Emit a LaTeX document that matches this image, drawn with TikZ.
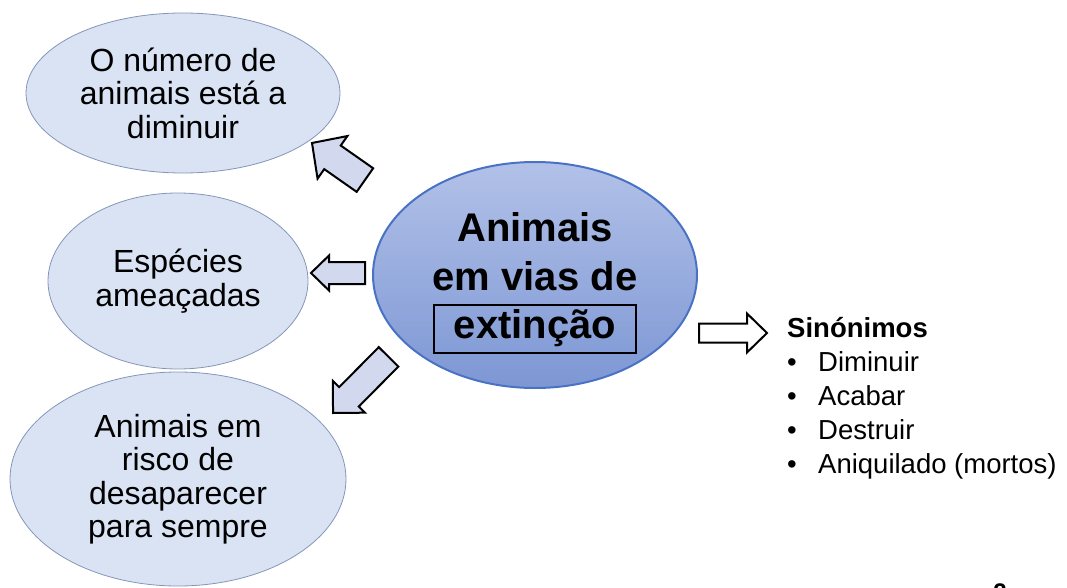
\documentclass[tikz,border=0pt]{standalone}
\usepackage{fontspec}
\setmainfont{Liberation Sans}
\usetikzlibrary{shapes.geometric}
\definecolor{lightfill}{HTML}{DAE3F3}
\definecolor{lightedge}{HTML}{8496B8}
\definecolor{centtop}{HTML}{B2C1E8}
\definecolor{centbot}{HTML}{7D97D4}
\definecolor{centedge}{HTML}{4A72C4}
\definecolor{arrfill}{HTML}{D2D9EF}
\tikzset{
 bubble/.style={ellipse, draw=lightedge, line width=0.8pt, fill=lightfill, inner sep=0pt, align=center, font=\fontsize{32}{33.5}\selectfont},
 hub/.style={ellipse, draw=centedge, line width=2pt, top color=centtop, bottom color=centbot, inner sep=0pt},
 hubtext/.style={font=\fontsize{40}{48}\selectfont\bfseries, inner sep=0pt, anchor=base},
 blk/.style={draw=black, line width=2pt, fill=arrfill, line join=miter},
 blkwhite/.style={draw=black, line width=2pt, fill=white, line join=miter},
 synhead/.style={font=\fontsize{27.5}{34}\selectfont\bfseries, anchor=base west, inner sep=0pt},
 synitem/.style={font=\fontsize{27.5}{34}\selectfont, anchor=base west, inner sep=0pt},
 bulletmark/.style={font=\fontsize{27.5}{34}\selectfont, anchor=base, inner sep=0pt},
}
\newcommand{\blockarrow}[7]{%
 \begin{scope}[shift={#2}, rotate=#3]
 \draw[#1] (0,0) -- (-#5,#7) -- (-#5,#6) -- (-#4,#6) -- (-#4,-#6) -- (-#5,-#6) -- (-#5,-#7) -- cycle;
 \end{scope}}
\begin{document}
\begin{tikzpicture}[x=1pt,y=-1pt]
\useasboundingbox (0,0) rectangle (1067,588);
% outer bubbles
\node[bubble, minimum width=314pt, minimum height=160pt] (top) at (183,93) {O número de\\animais está a\\diminuir};
\node[bubble, minimum width=260pt, minimum height=176pt] (mid) at (178,281) {Espécies\\ameaçadas};
\node[bubble, minimum width=336pt, minimum height=214pt] (bot) at (178,479) {Animais em\\risco de\\desaparecer\\para sempre};
% central bubble
\node[hub, minimum width=324pt, minimum height=226pt] (hub) at (535,275) {};
\node[hubtext] (h1) at (535,241) {Animais};
\node[hubtext] (h2) at (535,290) {em vias de};
\node[hubtext, draw=black, line width=2pt, text height=29pt, text depth=11pt, inner xsep=20pt, inner ysep=4pt] (h3) at (535,338) {extinção};
% block arrows
\blockarrow{blk}{(312,143)}{145}{64.6}{25}{14.4}{26}
\blockarrow{blk}{(311,273)}{180}{54}{18}{11}{17.5}
\blockarrow{blk}{(333,413)}{225.3}{79}{22.7}{13.8}{22.5}
\blockarrow{blkwhite}{(767,333)}{0}{68}{20}{9.5}{19.5}
% synonyms
\node[synhead] (syn) at (787,337) {Sinónimos};
\node[bulletmark] (b1) at (792,371) {•};
\node[synitem] (s1) at (818,371) {Diminuir};
\node[bulletmark] (b2) at (792,405) {•};
\node[synitem] (s2) at (818,405) {Acabar};
\node[bulletmark] (b3) at (792,439) {•};
\node[synitem] (s3) at (818,439) {Destruir};
\node[bulletmark] (b4) at (792,473) {•};
\node[synitem] (s4) at (818,473) {Aniquilado (mortos)};
% page number (cut off)
\node[font=\fontsize{24}{24}\selectfont\bfseries, anchor=base, inner sep=0pt] (pg) at (1000,600) {2};
\end{tikzpicture}
\end{document}
